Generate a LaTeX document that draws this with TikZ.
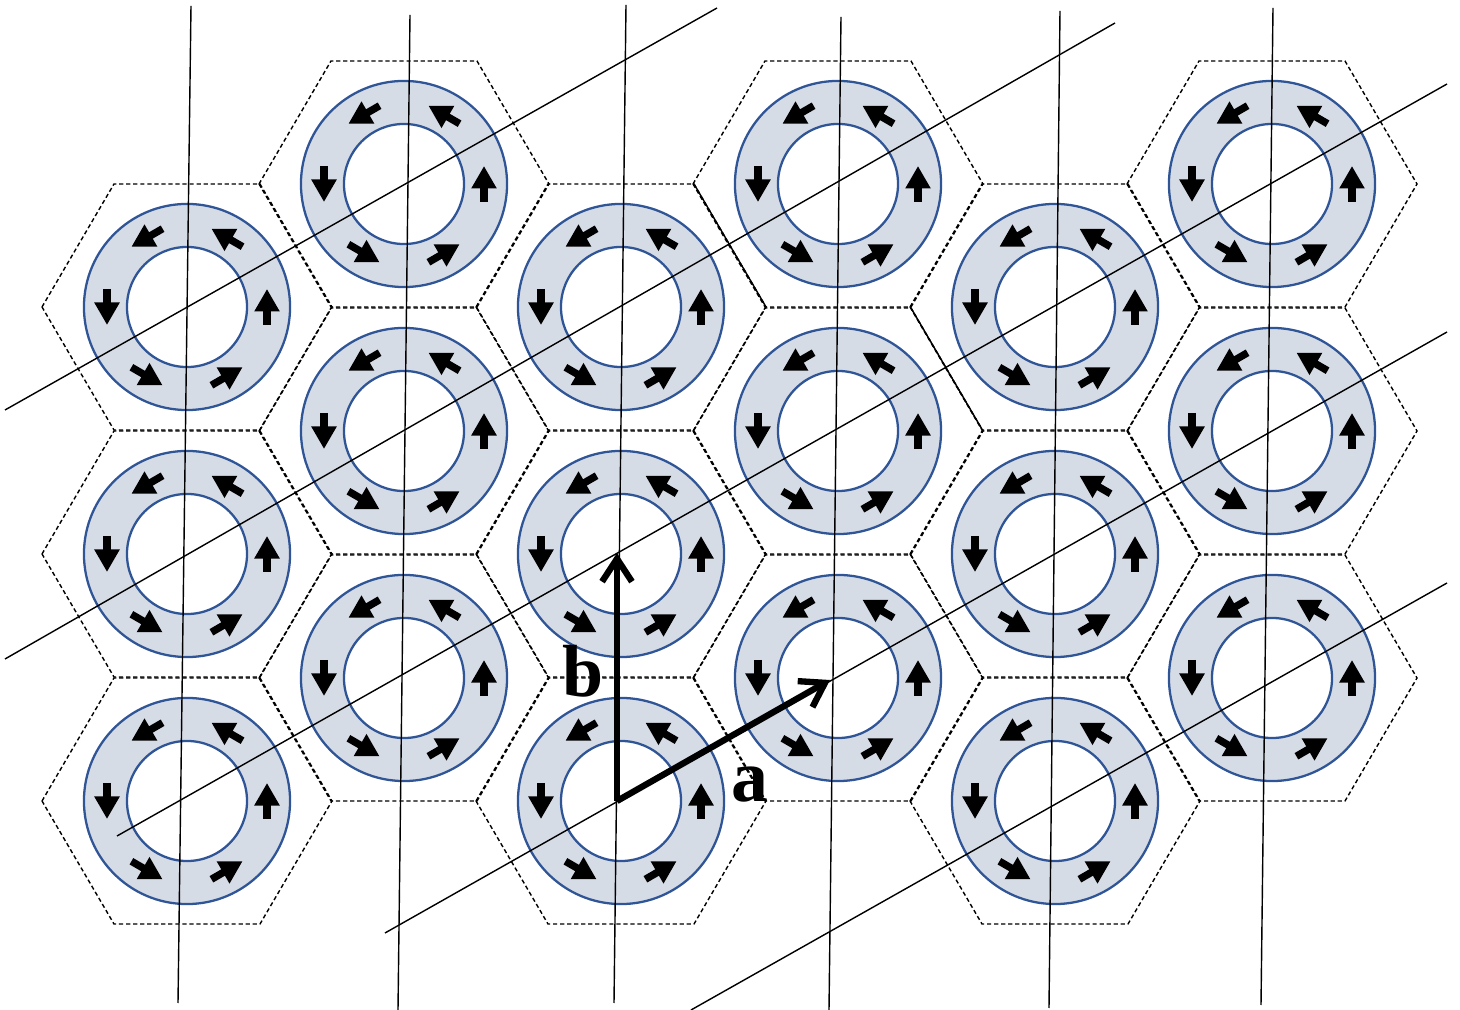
\documentclass[tikz,border=0pt]{standalone}
\usepackage{fontspec}
\setmainfont{Liberation Serif}
\usepackage{xcolor}
\usetikzlibrary{arrows.meta}
\definecolor{ringfill}{HTML}{D6DCE5}
\definecolor{ringline}{HTML}{2F5597}

\begin{document}
\begin{tikzpicture}[x=0.01cm, y=-0.01cm]
  \tikzstyle{cell}=[draw, dash pattern=on 1.2pt off 0.8pt, line width=0.4pt]
  \tikzstyle{outer}=[circle,draw=ringline,line width=0.65pt,fill=ringfill,minimum size=2.06cm,inner sep=0pt]
  \tikzstyle{inner}=[circle,draw=ringline,line width=0.65pt,fill=white,minimum size=1.2cm,inner sep=0pt]
  \tikzstyle{spin}=[line width=2.1pt,-{Triangle[length=6.4pt,width=6.8pt]}]
  \tikzstyle{latt}=[line width=0.4pt]
  \tikzstyle{vec}=[line width=1.8pt,line join=miter,-{Straight Barb[length=6.5pt,width=8.5pt]}]
  \tikzstyle{lbl}=[inner sep=0pt,font=\fontsize{21}{25}\selectfont\bfseries]
  \useasboundingbox (0,0) rectangle (1460,1010);
  % cells, rings and spins
  \foreach \i/\yo in {0/307,1/184,2/307,3/184,4/307,5/184} {
    \foreach \j in {0,1,2} {
      \begin{scope}[shift={({187+217*\i},{\yo+247*\j})}]
        \draw[cell] (-145,0) -- (-73,-123) -- (73,-123) -- (145,0)
          -- (73,123) -- (-73,123) -- cycle;
        \node[outer] (o\i\j) at (0,0) {};
        \node[inner] (n\i\j) at (0,0) {};
        \foreach \t in {0,60,...,300}
          \draw[spin, rotate=\t] (80,18) -- (80,-18);
      \end{scope}
    }
  }
  \draw[latt] (694,184) -- (766,307);
  \draw[latt] (911,308) -- (983,431);
  % lattice lines
  \foreach \xa/\ya/\xb/\yb in {191/6/178/1003,410/15/398/1010,626/5/614/1003,
      841/17/829/1010,1060/11/1049/1008,1273/8/1261/1005}
    \draw[latt] (\xa,\ya) -- (\xb,\yb);
  \foreach \xa/\ya/\xb/\yb in {5/410/717/8,5/659/1115/23,117/836/1447/84,
      385/933/1447/332,691/1010/1447/583}
    \draw[latt] (\xa,\ya) -- (\xb,\yb);
  % basis vectors
  \coordinate (O) at (617,801);
  \coordinate (A) at (830,680);
  \coordinate (B) at (617,553);
  \draw[vec] (O) -- (B);
  \draw[vec] (O) -- (A);
  \node[lbl] (lb) at (583,671) {b};
  \node[lbl] (la) at (750,785) {a};
\end{tikzpicture}
\end{document}
